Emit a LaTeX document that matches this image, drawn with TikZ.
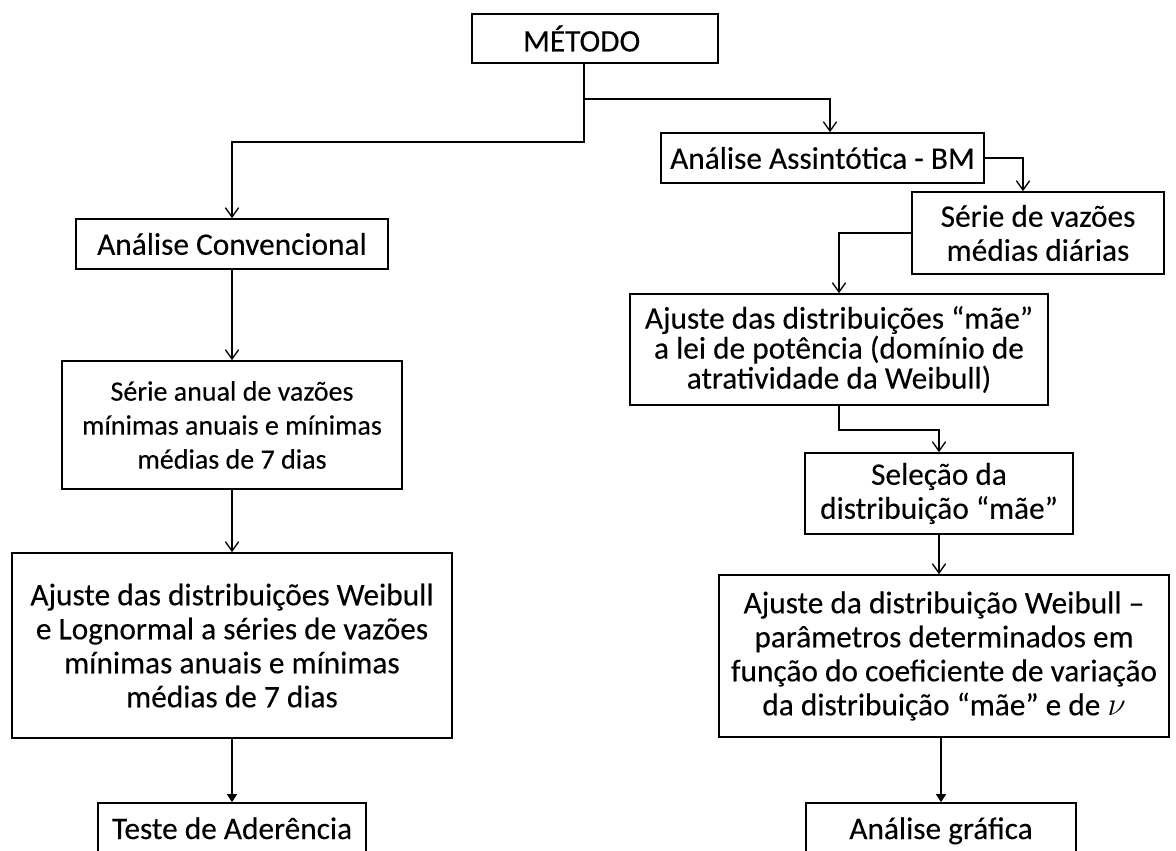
\documentclass[tikz,border=0pt]{standalone}
\usepackage{fontspec}
\setmainfont{Carlito}[FakeBold=0.2]
\usetikzlibrary{arrows.meta}
\begin{document}
\begin{tikzpicture}[x=0.75pt,y=-0.75pt,
  box/.style={draw=black, line width=1.3pt, inner sep=0pt, align=center,
    font=\fontsize{23.5}{25.5}\selectfont},
  small/.style={font=\fontsize{21}{25.5}\selectfont},
  tight/.style={font=\fontsize{23.5}{22.5}\selectfont},
  rect/.style n args={4}{minimum width={(#3-#1)*0.75pt}, minimum height={(#4-#2)*0.75pt},
    at={({(#1+#3)/2},{(#2+#4)/2})}},
  conn/.style={line width=1pt, -{Straight Barb[length=7pt,width=10pt,line width=1pt]}},
  connf/.style={line width=1pt, -{Triangle[length=6pt,width=7.5pt]}},
]
\useasboundingbox (0,0) rectangle (1176,850);
\clip (0,0) rectangle (1176,850);
\fill[white] (0,0) rectangle (1176,850);

% left column
\node[box, rect={472}{14}{718}{63}] (metodo) {MÉTODO\hspace*{20pt}};
\node[box, rect={76}{219}{388}{269}] (ac) {Análise Convencional};
\node[box, small, rect={62}{361}{402}{489}] (sa) {Série anual de vazões\\ mínimas anuais e mínimas\\ médias de 7 dias};
\node[box, rect={12}{553}{452}{738}] (aw) {Ajuste das distribuições Weibull\\ e Lognormal a séries de vazões\\ mínimas anuais e mínimas\\ médias de 7 dias};
\node[box, rect={98}{803}{366}{870}] (ta) {};
\node[font=\fontsize{23.5}{25.5}\selectfont, anchor=base] (tat) at (232,839) {Teste de Aderência};

% right column
\node[box, rect={661}{133}{984}{183}] (aa) {Análise Assintótica - BM};
\node[box, rect={912}{192}{1164}{274}] (sv) {Série de vazões\\ médias diárias};
\node[box, tight, rect={630}{294}{1048}{405}] (am) {Ajuste das distribuições “mãe”\\ a lei de potência (domínio de\\ atratividade da Weibull)};
\node[box, rect={805}{453}{1073}{534}] (sd) {Seleção da\\ distribuição “mãe”};
\node[box, rect={719}{575}{1169}{737}] (awb) {Ajuste da distribuição Weibull –\\ parâmetros determinados em\\ função do coeficiente de variação\\ da distribuição “mãe” e de $\nu$};
\node[box, rect={806}{803}{1076}{870}] (ag) {};
\node[font=\fontsize{23.5}{25.5}\selectfont, anchor=base] (agt) at (941,839) {Análise gráfica};

% connectors
\coordinate (mx) at (584,0);
\coordinate (bx) at (830,0);
\coordinate (ax) at (1023,0);
\draw[conn] (metodo.south -| mx) -- ++(0,78) -| (ac.north);
\draw[conn] (metodo.south -| mx) ++(0,35) -| (aa.north -| bx);
\draw[conn] (aa.east) -| (sv.north -| ax);
\draw[conn] (sv.west) -| (am.north);
\draw[conn] (am.south) -- ++(0,24) -| (sd.north);
\draw[conn] (sd.south) -- (sd.south |- awb.north);
\draw[connf] (awb.south -| ag.north) -- (ag.north);
\draw[conn] (ac.south) -- (ac.south |- sa.north);
\draw[conn] (sa.south) -- (sa.south |- aw.north);
\draw[connf] (aw.south -| ta.north) -- (ta.north);
\end{tikzpicture}
\end{document}
